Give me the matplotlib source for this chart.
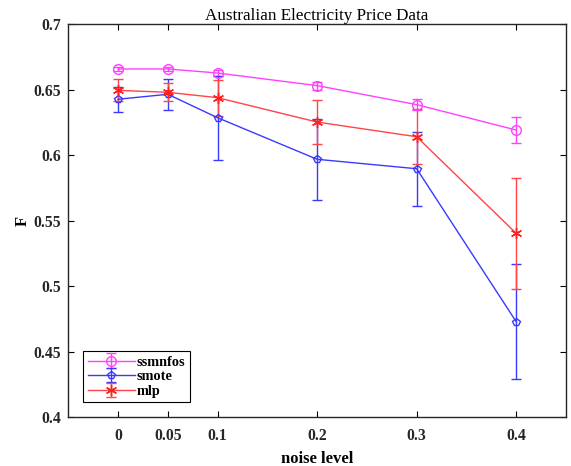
import matplotlib
matplotlib.use("Agg")
import matplotlib.pyplot as plt

noise = [0, 0.05, 0.1, 0.2, 0.3, 0.4]
xtick_labels = ["0", "0.05", "0.1", "0.2", "0.3", "0.4"]

ssmnfos = [0.6657, 0.6657, 0.6626, 0.6530, 0.6385, 0.6191]
ssmnfos_err = [0.0015, 0.0015, 0.0020, 0.0030, 0.0040, 0.0099]

smote = [0.6426, 0.6464, 0.6285, 0.5968, 0.5896, 0.4729]
smote_err = [0.0097, 0.0120, 0.0320, 0.0310, 0.0282, 0.0439]

mlp = [0.6494, 0.6479, 0.6438, 0.6252, 0.6140, 0.5403]
mlp_err = [0.0083, 0.0070, 0.0136, 0.0166, 0.0210, 0.0423]

plt.rcParams['font.family'] = ['Liberation Serif', 'DejaVu Serif']

fig = plt.figure(figsize=(5.71, 4.66), dpi=100)
ax = fig.add_axes([0.1196, 0.1045, 0.9912 - 0.1196, 0.9485 - 0.1045])

c_mag = '#ff40ff'
c_blue = '#3a3aff'
c_red = '#ff4545'

ax.errorbar(noise, ssmnfos, yerr=ssmnfos_err, color=c_mag, marker='o',
            markersize=7, markerfacecolor='none', markeredgecolor=c_mag,
            capsize=3.6, linewidth=1.0, elinewidth=1.0, label='ssmnfos')
ax.errorbar(noise, smote, yerr=smote_err, color=c_blue, marker='p',
            markersize=6, markerfacecolor='none', markeredgecolor=c_blue,
            capsize=3.6, linewidth=1.0, elinewidth=1.0, label='smote')
ax.errorbar(noise, mlp, yerr=mlp_err, color=c_red, marker=(6, 2, 0),
            markersize=8, markeredgecolor='#ff2020',
            capsize=3.6, linewidth=1.0, elinewidth=1.0, label='mlp')

ax.set_xlim(-0.05, 0.45)
ax.set_ylim(0.4, 0.7)
ax.set_xticks(noise)
ax.set_xticklabels(xtick_labels)
ax.set_yticks([0.4, 0.45, 0.5, 0.55, 0.6, 0.65, 0.7])
ax.set_yticklabels(["0.4", "0.45", "0.5", "0.55", "0.6", "0.65", "0.7"])
ax.tick_params(direction='in', top=True, right=True, length=4, width=0.8,
               labelsize=11.3)
ax.tick_params(axis='x', pad=8)
ax.tick_params(axis='y', pad=5)
for lab in ax.get_xticklabels() + ax.get_yticklabels():
    lab.set_fontweight('bold')
    lab.set_color('#262626')
for s in ax.spines.values():
    s.set_linewidth(1.0)
    s.set_color('#262626')

ax.set_title('Australian Electricity Price Data', fontsize=12.3, pad=3)
ax.set_xlabel('noise level', fontsize=12, fontweight='bold', labelpad=5)
ax.set_ylabel('F', fontsize=12, fontweight='bold', labelpad=2)

leg = ax.legend(loc='lower left', bbox_to_anchor=(0.03, 0.038), borderaxespad=0,
                fancybox=False, edgecolor='black', framealpha=1,
                handlelength=3.3, borderpad=0.3, labelspacing=0.12,
                handletextpad=0.15, prop={'weight': 'bold', 'size': 10.3})
leg.get_frame().set_linewidth(0.8)

fig.savefig('out.png', dpi=100)
